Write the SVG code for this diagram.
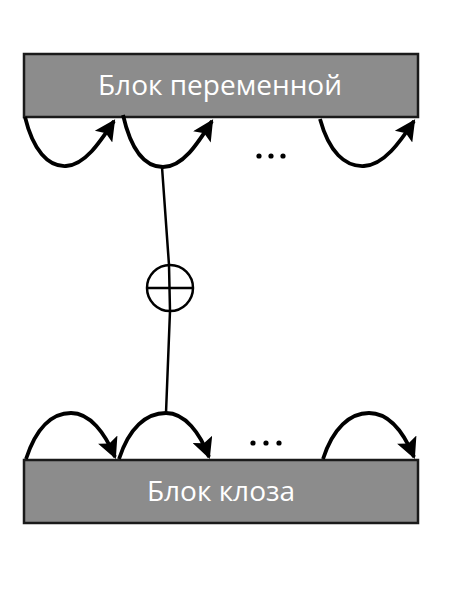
<svg xmlns="http://www.w3.org/2000/svg" width="450" height="600" viewBox="0 0 450 600">
<style>
.box{fill:#8c8c8c;stroke:#1a1a1a;stroke-width:2.5}
.lbl{fill:#ffffff;font-family:"Open Sans","Noto Sans",sans-serif;font-size:28px;text-anchor:middle}
.arc{fill:none;stroke:#000;stroke-width:3.8;marker-end:url(#ah)}
.ln{fill:none;stroke:#000;stroke-width:2.5}
</style>
<defs>
<marker id="ah" viewBox="0 0 10 10" refX="9" refY="5" markerWidth="6" markerHeight="5.5" orient="auto" markerUnits="strokeWidth">
<path d="M0,0 L10,5 L0,10 L2,5 Z" fill="#000"/>
</marker>
</defs>
<rect width="450" height="600" fill="#fff"/>
<g id="top-block">
<rect class="box" x="24" y="54" width="394" height="63"/>
<text class="lbl" x="220" y="95">Блок переменной</text>
</g>
<g id="bottom-block">
<rect class="box" x="24" y="460" width="394" height="63"/>
<text class="lbl" x="221" y="501">Блок клоза</text>
</g>
<g id="xor">
<circle cx="170" cy="288" r="23" fill="none" stroke="#000" stroke-width="2.5"/>
<line x1="147" y1="288" x2="193" y2="288" stroke="#000" stroke-width="2.5"/>
</g>
<g id="dots">
<circle cx="259" cy="156" r="2.6"/><circle cx="271" cy="156" r="2.6"/><circle cx="283" cy="156" r="2.6"/>
<circle cx="253" cy="443" r="2.6"/><circle cx="266" cy="443" r="2.6"/><circle cx="279" cy="443" r="2.6"/>
</g>
<g id="connectors">
<path class="arc" d="M25,117 C33,150 48,167 66,166 C85,165 100,142 114,121"/>
<path class="arc" d="M123,115 C131,150 145,167 163,167 C183,167 198,143 212,121"/>
<path class="arc" d="M320,119 C329,152 345,167 364,166 C384,165 400,142 414,121"/>
<path class="arc" d="M26,459 C36,428 52,413 71,413 C90,413 105,433 115,457"/>
<path class="arc" d="M119,459 C129,428 146,413 166,413 C185,413 200,433 209,457"/>
<path class="arc" d="M323,459 C333,428 350,413 369,413 C389,413 404,433 414,457"/>
<path class="ln" d="M162,167 L169,265 L170,311 L166,413"/>
</g>
</svg>
